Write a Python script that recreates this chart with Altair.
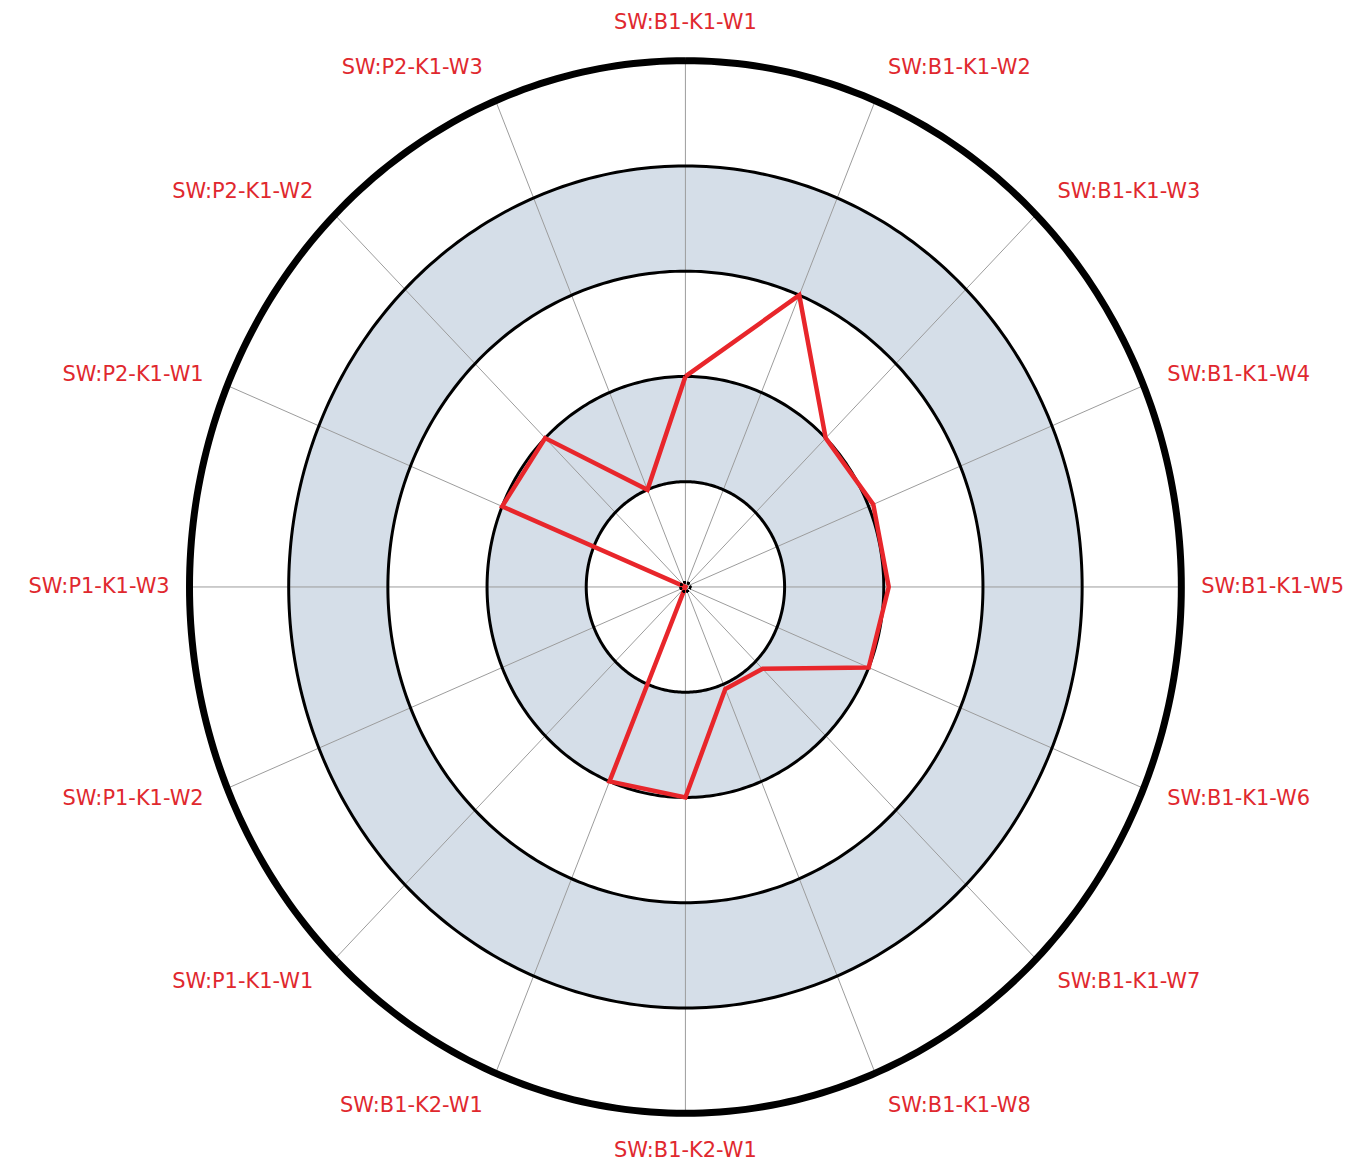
import altair as alt
import numpy as np
import pandas as pd

# ---- data ----
categories = [
    "SW:B1-K1-W1", "SW:B1-K1-W2", "SW:B1-K1-W3", "SW:B1-K1-W4",
    "SW:B1-K1-W5", "SW:B1-K1-W6", "SW:B1-K1-W7", "SW:B1-K1-W8",
    "SW:B1-K2-W1", "SW:B1-K2-W1", "SW:P1-K1-W1", "SW:P1-K1-W2",
    "SW:P1-K1-W3", "SW:P2-K1-W1", "SW:P2-K1-W2", "SW:P2-K1-W3",
]
values = [2.0, 3.0, 2.0, 2.05, 2.05, 2.0, 1.1, 1.05,
          2.0, 2.0, 0.0, 0.0, 0.0, 2.0, 2.0, 1.0]
ring_levels = [1, 2, 3, 4, 5]
shaded_bands = [(1, 2), (3, 4)]

# ---- styling ----
RED = "#e8262b"
LABEL_RED = "#e0282e"
BAND = "#d5dee8"
SPOKE = "#9c9c9c"
FONT = "DejaVu Sans"

n = len(categories)
step = 360.0 / n
rmax = max(ring_levels)

# polygon (closed)
poly = pd.DataFrame({
    "idx": list(range(n + 1)),
    "category": categories + [categories[0]],
    "value": values + [values[0]],
})
poly["angle"] = poly["idx"] * step

# spokes
spokes = pd.DataFrame({"category": categories, "angle": [i * step for i in range(n)]})
spokes["x0"] = 0.0
spokes["y0"] = 0.0
spokes["x1"] = rmax * np.sin(np.radians(spokes["angle"]))
spokes["y1"] = rmax * np.cos(np.radians(spokes["angle"]))

# ring outlines
rows = []
for lv in ring_levels:
    for t in np.arange(0, 361, 1.0):
        rows.append({"level": lv, "t": t,
                     "x": lv * np.sin(np.radians(t)),
                     "y": lv * np.cos(np.radians(t))})
rings = pd.DataFrame(rows)

# shaded bands (annuli)
brow = []
ts = np.radians(np.arange(0, 180.01, 0.5))
for a, b in shaded_bands:
    xs = np.unique(np.round(np.concatenate([b * np.cos(ts), a * np.cos(ts)]), 6))
    for half in (1, -1):
        for xv in xs:
            yo = np.sqrt(max(b * b - xv * xv, 0.0))
            yi = np.sqrt(max(a * a - xv * xv, 0.0))
            brow.append({"band": f"{a}-{b}-{half}", "x": xv,
                         "y": half * yo, "y2": half * yi})
bands = pd.DataFrame(brow)

# labels
lab = pd.DataFrame({"category": categories, "angle": [i * step for i in range(n)]})
rad = np.radians(lab["angle"])
is_pole = (lab["angle"] % 180) == 0
lab["r"] = np.where(is_pole, 5.36, 5.2 + 0.15 * np.abs(np.cos(rad)))
lab["lx"] = lab["r"] * np.sin(rad)
lab["ly"] = lab["r"] * np.cos(rad)
lab["side"] = np.where(is_pole, "c", np.where(lab["angle"] < 180, "r", "l"))

xs_scale = alt.Scale(domain=[-6.83, 6.62], nice=False, zero=False)
ys_scale = alt.Scale(domain=[-5.318, 5.488], nice=False, zero=False)


def X(f):
    return alt.X(f, scale=xs_scale, axis=None)


def Y(f):
    return alt.Y(f, scale=ys_scale, axis=None, stack=None)


band_layer = alt.Chart(bands).mark_area(color=BAND, opacity=1).encode(
    x=X("x:Q"), y=Y("y:Q"), y2="y2:Q", detail="band:N"
)

spoke_layer = alt.Chart(spokes).mark_rule(color=SPOKE, strokeWidth=1).encode(
    x=X("x0:Q"), y=Y("y0:Q"), x2="x1:Q", y2="y1:Q"
)

inner_rings = alt.Chart(rings).transform_filter(
    alt.datum.level < rmax
).mark_line(color="black", strokeWidth=3).encode(
    x=X("x:Q"), y=Y("y:Q"), detail="level:N", order="t:Q"
)

outer_ring = alt.Chart(rings).transform_filter(
    alt.datum.level == rmax
).mark_line(color="black", strokeWidth=7).encode(
    x=X("x:Q"), y=Y("y:Q"), detail="level:N", order="t:Q"
)

poly_layer = alt.Chart(poly).transform_calculate(
    px="datum.value * sin(datum.angle * PI / 180)",
    py="datum.value * cos(datum.angle * PI / 180)",
).mark_line(color=RED, strokeWidth=4.5, strokeJoin="miter").encode(
    x=X("px:Q"), y=Y("py:Q"), order="idx:Q"
)

center_dot = alt.Chart(poly).mark_point(
    shape="circle", size=90, filled=False, stroke="black",
    strokeWidth=2, strokeDash=[2, 2]
).encode(x=alt.X(datum=0, scale=xs_scale, axis=None),
         y=alt.Y(datum=0, scale=ys_scale, axis=None))


def label_layer(side, align):
    return alt.Chart(lab).transform_filter(
        alt.datum.side == side
    ).mark_text(align=align, baseline="middle", font=FONT, fontSize=21,
                color=LABEL_RED).encode(
        x=X("lx:Q"), y=Y("ly:Q"), text="category:N"
    )


chart = alt.layer(
    band_layer, spoke_layer, inner_rings, outer_ring, poly_layer, center_dot,
    label_layer("r", "left"), label_layer("l", "right"), label_layer("c", "center"),
).properties(
    width=1337, height=1140, padding=0, background="white"
).configure_view(stroke=None)

chart.save("out.html", embed_options={"renderer": "svg", "actions": False})
